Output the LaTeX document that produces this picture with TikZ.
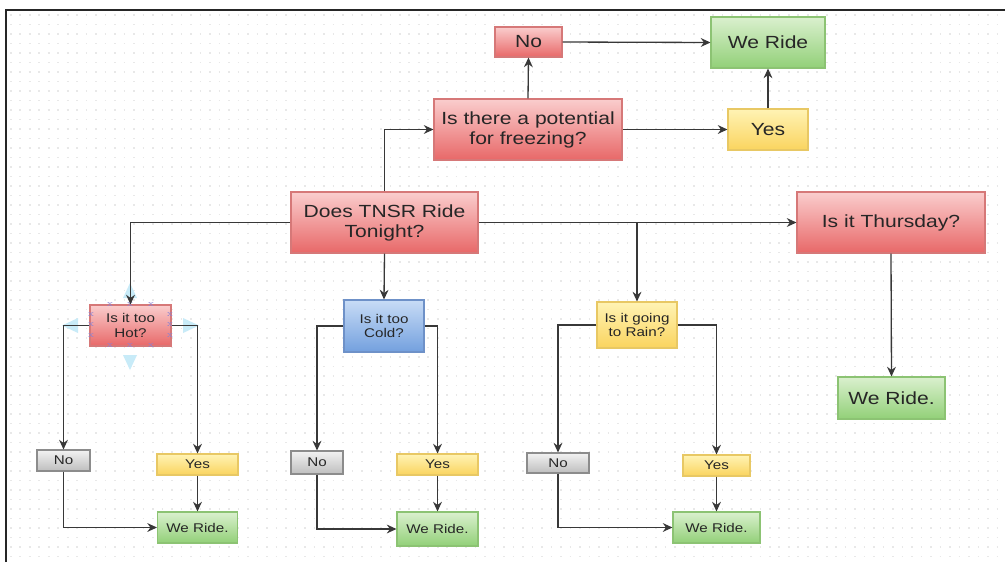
\documentclass[tikz,border=0pt]{standalone}
\usepackage{fontspec}
\usepackage{xcolor}
\usepackage{tikz}
\usetikzlibrary{arrows.meta, positioning, calc}
\newfontfamily\widesans[FakeStretch=1.2]{Liberation Sans}
\newcommand{\bigtxt}{\widesans\fontsize{10}{11.4}\selectfont}
\newcommand{\smalltxt}{\widesans\fontsize{7.2}{8.5}\selectfont}
\definecolor{redtop}{RGB}{250, 205, 205}
\definecolor{redbot}{RGB}{232, 104, 104}
\definecolor{redline}{RGB}{214, 120, 120}
\definecolor{greentop}{RGB}{218, 240, 206}
\definecolor{greenbot}{RGB}{146, 208, 120}
\definecolor{greenline}{RGB}{140, 195, 115}
\definecolor{yeltop}{RGB}{255, 243, 180}
\definecolor{yelbot}{RGB}{250, 212, 95}
\definecolor{yelline}{RGB}{232, 200, 100}
\definecolor{bluetop}{RGB}{200, 220, 246}
\definecolor{bluebot}{RGB}{115, 160, 222}
\definecolor{blueline}{RGB}{110, 145, 200}
\definecolor{graytop}{RGB}{242, 242, 242}
\definecolor{graybot}{RGB}{190, 190, 190}
\definecolor{grayline}{RGB}{140, 140, 140}
\definecolor{handle}{RGB}{200, 235, 248}
\definecolor{handlex}{RGB}{140, 130, 210}

\begin{document}
\begin{tikzpicture}[x=0.02cm, y=-0.02cm,
  box/.style={rectangle, draw, line width=0.6pt, inner sep=1pt, align=center, text=black!85},
  redbox/.style={box, draw=redline, top color=redtop, bottom color=redbot},
  greenbox/.style={box, draw=greenline, top color=greentop, bottom color=greenbot},
  yelbox/.style={box, draw=yelline, top color=yeltop, bottom color=yelbot},
  bluebox/.style={box, draw=blueline, top color=bluetop, bottom color=bluebot},
  graybox/.style={box, draw=grayline, top color=graytop, bottom color=graybot},
  flow/.style={draw=black!78, line width=0.75pt, -{Stealth[length=5.5pt, width=5pt]}},
  selmark/.style={handlex, font=\fontsize{5}{5}\selectfont, inner sep=0pt}]
\useasboundingbox (0,0) rectangle (1005,562);

% Background dots and frame
\fill[white] (0,0) rectangle (1005,562);
\foreach \gy in {15,24.5,...,560}
  \draw[gray!18, line width=0.9pt, dash pattern=on 0.9pt off 4.5pt] (10,\gy) -- (1005,\gy);
\draw[black!85, line width=0.9pt] (6,562) -- (6,10) -- (1005,10);

% Main question
\node[redbox, minimum width=3.74cm, minimum height=1.22cm, font=\bigtxt] (tnsr) at (384.5,222.5) {Does TNSR Ride\\Tonight?};

% Freezing branch
\node[redbox, minimum width=3.76cm, minimum height=1.22cm, font=\bigtxt] (freeze) at (528,129.5) {Is there a potential\\for freezing?};
\node[redbox, minimum width=1.34cm, minimum height=0.6cm, font=\bigtxt] (topno) at (528.5,42) {No};
\node[yelbox, minimum width=1.6cm, minimum height=0.82cm, font=\bigtxt] (topyes) at (768,129.5) {Yes};
\node[greenbox, minimum width=2.28cm, minimum height=1.02cm, font=\bigtxt] (topride) at (768,42.5) {We Ride};

% Thursday branch
\node[redbox, minimum width=3.76cm, minimum height=1.22cm, font=\bigtxt] (thu) at (891,222.5) {Is it Thursday?};
\node[greenbox, minimum width=2.14cm, minimum height=0.84cm, font=\bigtxt] (thuride) at (891.5,398) {We Ride.};

% Hot branch (selected)
\fill[handle] (130,283) -- (137,298) -- (123,298) -- cycle;
\fill[handle] (130,370) -- (137,355) -- (123,355) -- cycle;
\fill[handle] (62,325.5) -- (78,318) -- (78,333) -- cycle;
\fill[handle] (199,325.5) -- (183,318) -- (183,333) -- cycle;
\node[redbox, minimum width=1.62cm, minimum height=0.82cm, font=\smalltxt] (hot) at (130.5,325.5) {Is it too\\Hot?};
\foreach \hx in {110,130,151}
  \foreach \hy in {305,346}
    \node[selmark] at (\hx,\hy) {x};
\foreach \hx in {91,170}
  \foreach \hy in {315,325,336}
    \node[selmark] at (\hx,\hy) {x};
\node[graybox, minimum width=1.06cm, minimum height=0.42cm, font=\smalltxt] (hotno) at (63.5,460.5) {No};
\node[yelbox, minimum width=1.62cm, minimum height=0.42cm, font=\smalltxt] (hotyes) at (197.5,464.5) {Yes};
\node[greenbox, minimum width=1.6cm, minimum height=0.62cm, font=\smalltxt] (hotride) at (197.5,527.5) {We Ride.};

% Cold branch
\node[bluebox, minimum width=1.6cm, minimum height=1.04cm, font=\smalltxt] (cold) at (384,326) {Is it too\\Cold?};
\node[graybox, minimum width=1.04cm, minimum height=0.46cm, font=\smalltxt] (coldno) at (317,462.5) {No};
\node[yelbox, minimum width=1.62cm, minimum height=0.42cm, font=\smalltxt] (coldyes) at (437.5,464.5) {Yes};
\node[greenbox, minimum width=1.62cm, minimum height=0.68cm, font=\smalltxt] (coldride) at (437.5,529) {We Ride.};

% Rain branch
\node[yelbox, minimum width=1.6cm, minimum height=0.92cm, font=\smalltxt] (rain) at (637,325) {Is it going\\to Rain?};
\node[graybox, minimum width=1.24cm, minimum height=0.4cm, font=\smalltxt] (rainno) at (558,463) {No};
\node[yelbox, minimum width=1.34cm, minimum height=0.42cm, font=\smalltxt] (rainyes) at (716.5,465.5) {Yes};
\node[greenbox, minimum width=1.74cm, minimum height=0.62cm, font=\smalltxt] (rainride) at (716.5,527.5) {We Ride.};

% Connectors from the main question
\draw[flow] (tnsr.north) |- (freeze.west);
\draw[flow] (tnsr.west) -| (hot.north);
\draw[flow] (tnsr.south) -- (cold.north);
\draw[flow] (tnsr.east) -| (rain.north);
\draw[flow] (tnsr.east) -- (thu.west);

% Freezing connectors
\draw[flow] (freeze.north) -- (topno.south);
\draw[flow] (topno.east) -- (topride.west);
\draw[flow] (freeze.east) -- (topyes.west);
\draw[flow] (topyes.north) -- (topride.south);

% Thursday connector
\draw[flow] (thu.south) -- (thuride.north);

% Hot connectors
\draw[flow] (hot.west) -| (hotno.north);
\draw[flow] (hot.east) -| (hotyes.north);
\draw[flow] (hotno.south) |- (hotride.west);
\draw[flow] (hotyes.south) -- (hotride.north);

% Cold connectors
\draw[flow] (cold.west) -| (coldno.north);
\draw[flow] (cold.east) -| (coldyes.north);
\draw[flow] (coldno.south) |- (coldride.west);
\draw[flow] (coldyes.south) -- (coldride.north);

% Rain connectors
\draw[flow] (rain.west) -| (rainno.north);
\draw[flow] (rain.east) -| (rainyes.north);
\draw[flow] (rainno.south) |- (rainride.west);
\draw[flow] (rainyes.south) -- (rainride.north);
\end{tikzpicture}
\end{document}
